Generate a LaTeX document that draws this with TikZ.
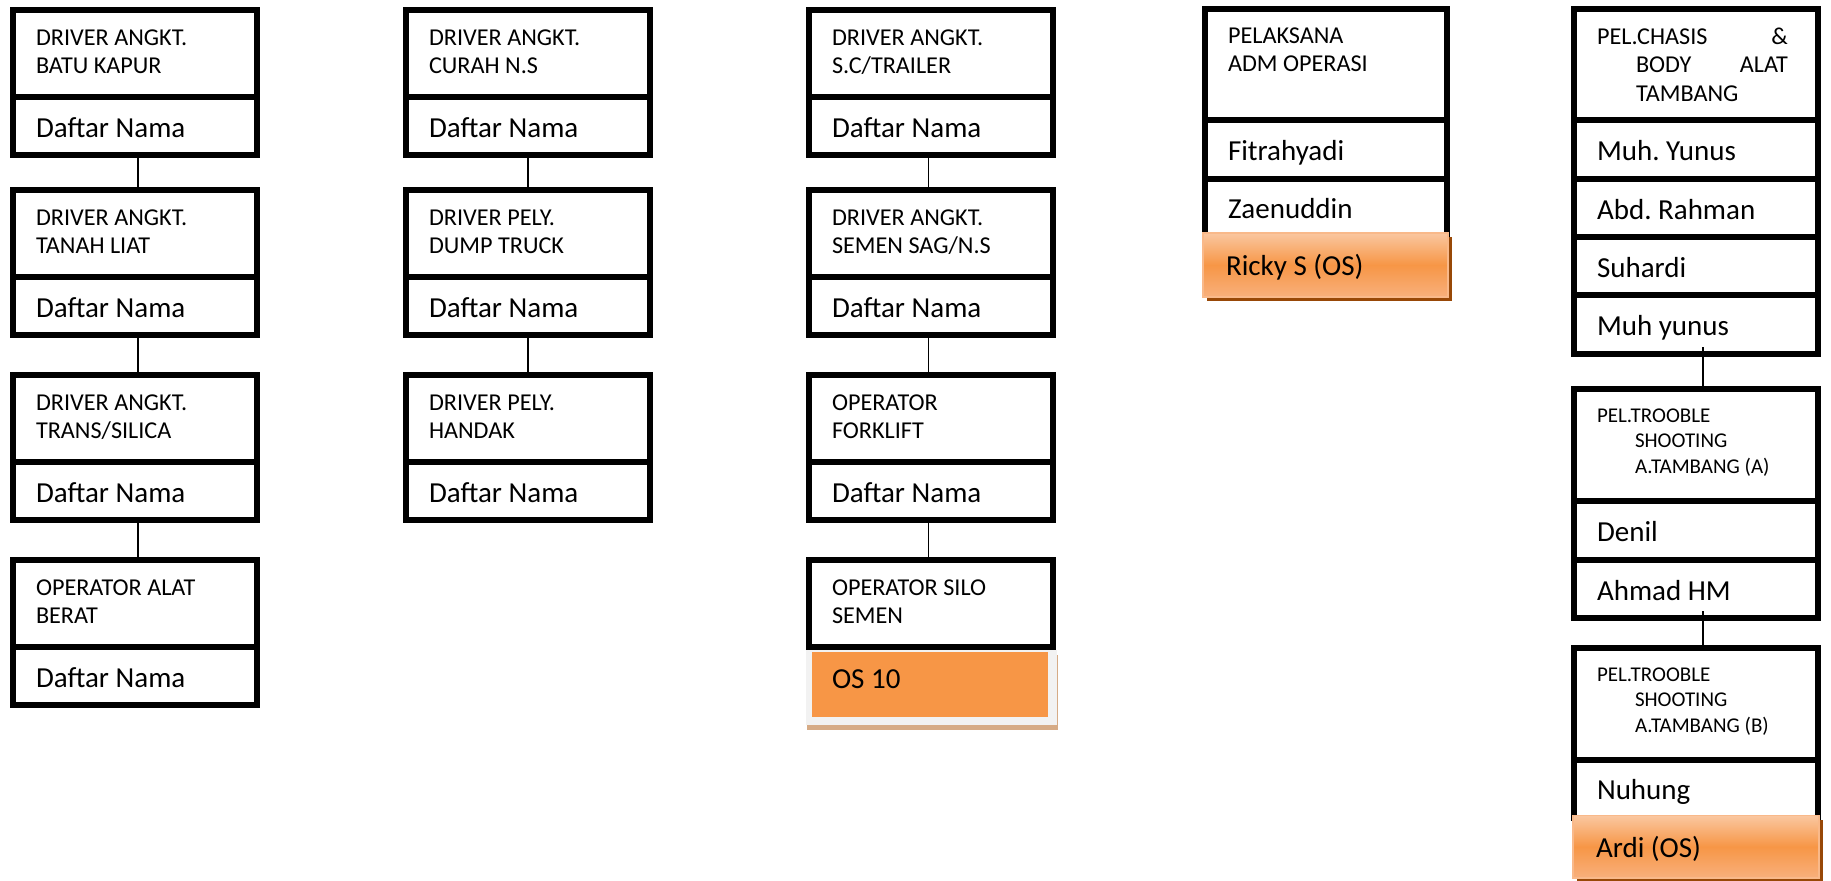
\documentclass[tikz,border=0pt]{standalone}
\usepackage{fontspec}
\setmainfont{Carlito}
\usetikzlibrary{shadows}
\frenchspacing
\definecolor{orMid}{HTML}{F79646}
\definecolor{orTop}{HTML}{FAC7A0}
\definecolor{orBot}{HTML}{F8B07C}
\definecolor{orEdge}{HTML}{F9B98A}
\definecolor{shBrown}{HTML}{984807}
\definecolor{shTan}{HTML}{D6AB86}
\definecolor{frameGray}{HTML}{F2F2F2}
\newcommand{\titlefont}{\fontsize{12.1pt}{14.25pt}\selectfont}
\newcommand{\smalltitlefont}{\fontsize{10.5pt}{12.75pt}\selectfont}
\newcommand{\namefont}{\fontsize{14.5pt}{17pt}\selectfont}
\newcommand{\ind}{\hspace*{11.5pt}}
% title cell: name, x, y, w, h, line1, line2
\newcommand{\tcell}[7]{\node[cellbox] (#1) at (#2,#3) {\parbox[c][\dimexpr #5pt/2\relax][t]{\dimexpr #4pt/2\relax}{\titlefont\vspace*{7.5pt}\ind\rule{0pt}{10pt}#6\\\ind #7}};}
% free title cell: name, x, y, w, h, body
\newcommand{\fcell}[6]{\node[cellbox] (#1) at (#2,#3) {\parbox[c][\dimexpr #5pt/2\relax][t]{\dimexpr #4pt/2\relax}{#6}};}
% name cell: [style] name, x, y, w, h, text
\newcommand{\ncell}[7][cellbox]{\node[#1] (#2) at (#3,#4) {\parbox[c][\dimexpr #6pt/2\relax][c]{\dimexpr #5pt/2\relax}{\namefont\ind\rule[-0.11em]{0pt}{1.01em}#7}};}
\tikzset{
  cellbox/.style={draw=black, line width=2.75pt, fill=white, inner sep=0pt, outer sep=0pt, anchor=north west},
  orbox/.style={draw=orEdge, line width=0.75pt, top color=orTop, bottom color=orBot, middle color=orMid,
    drop shadow={shadow xshift=2pt, shadow yshift=-2pt, opacity=1, fill=shBrown},
    inner sep=0pt, outer sep=0pt, anchor=north west},
  conn/.style={draw=black, line width=0.8pt}
}
\begin{document}
\begin{tikzpicture}[x=0.5pt, y=-0.5pt]
\useasboundingbox (0,0) rectangle (1831,880);
\fill[white] (0,0) rectangle (1831,880);

% ---------- column 1 ----------
\tcell{c1t1}{13}{10}{244}{87}{DRIVER ANGKT.}{BATU KAPUR}
\ncell{c1n1}{13}{97}{244}{58}{Daftar Nama}
\tcell{c1t2}{13}{190}{244}{87}{DRIVER ANGKT.}{TANAH LIAT}
\ncell{c1n2}{13}{277}{244}{58}{Daftar Nama}
\tcell{c1t3}{13}{375}{244}{87}{DRIVER ANGKT.}{TRANS/SILICA}
\ncell{c1n3}{13}{462}{244}{58}{Daftar Nama}
\tcell{c1t4}{13}{560}{244}{87}{OPERATOR ALAT}{BERAT}
\ncell{c1n4}{13}{647}{244}{58}{Daftar Nama}

% ---------- column 2 ----------
\tcell{c2t1}{406}{10}{244}{87}{DRIVER ANGKT.}{CURAH N.S}
\ncell{c2n1}{406}{97}{244}{58}{Daftar Nama}
\tcell{c2t2}{406}{190}{244}{87}{DRIVER PELY.}{DUMP TRUCK}
\ncell{c2n2}{406}{277}{244}{58}{Daftar Nama}
\tcell{c2t3}{406}{375}{244}{87}{DRIVER PELY.}{HANDAK}
\ncell{c2n3}{406}{462}{244}{58}{Daftar Nama}

% ---------- column 3 ----------
\tcell{c3t1}{809}{10}{244}{87}{DRIVER ANGKT.}{S.C/TRAILER}
\ncell{c3n1}{809}{97}{244}{58}{Daftar Nama}
\tcell{c3t2}{809}{190}{244}{87}{DRIVER ANGKT.}{SEMEN SAG/N.S}
\ncell{c3n2}{809}{277}{244}{58}{Daftar Nama}
\tcell{c3t3}{809}{375}{244}{87}{OPERATOR}{FORKLIFT}
\ncell{c3n3}{809}{462}{244}{58}{Daftar Nama}
\tcell{c3t4}{809}{560}{244}{87}{OPERATOR SILO}{SEMEN}
\node[fill=frameGray, inner sep=0pt, outer sep=0pt, anchor=north west,
  minimum width=125.5pt, minimum height=37.5pt,
  drop shadow={shadow xshift=0.5pt, shadow yshift=-2.5pt, opacity=1, fill=shTan}] (os10frame) at (806,650) {};
\node[fill=orMid, inner sep=0pt, outer sep=0pt, anchor=north west] (os10) at (812,652)
  {\parbox[c][32.5pt][t]{118pt}{\namefont\hspace*{10pt}\rule{0pt}{18pt}OS 10}};

% ---------- column 4 ----------
\fcell{c4t1}{1205}{9}{242}{111}{\titlefont\vspace*{7.5pt}\ind\rule{0pt}{9.5pt}PELAKSANA\\\ind ADM OPERASI}
\ncell{c4n1}{1205}{120}{242}{59}{Fitrahyadi}
\ncell{c4n2}{1205}{179}{242}{57}{Zaenuddin}
\ncell[orbox]{c4os}{1203}{233}{245}{64}{Ricky S (OS)}

% ---------- column 5 ----------
\fcell{c5t1}{1574}{9}{244}{111}{\titlefont\vspace*{7.5pt}\ind\rule{0pt}{10pt}PEL.CHASIS\hfill\&\kern15pt\\\hspace*{31pt}BODY\hfill ALAT\kern15pt\\\hspace*{31pt}TAMBANG}
\ncell{c5n1}{1574}{120}{244}{59}{Muh. Yunus}
\ncell{c5n2}{1574}{179}{244}{58}{Abd. Rahman}
\ncell{c5n3}{1574}{237}{244}{58}{Suhardi}
\ncell{c5n4}{1574}{295}{244}{59}{Muh yunus}

\fcell{c5t2}{1574}{389}{244}{112}{\smalltitlefont\vspace*{6.5pt}\ind\rule{0pt}{10pt}PEL.TROOBLE\\\hspace*{30.5pt}SHOOTING\\\hspace*{30.5pt}A.TAMBANG (A)}
\ncell{c5n5}{1574}{501}{244}{59}{Denil}
\ncell{c5n6}{1574}{560}{244}{58}{Ahmad HM}

\fcell{c5t3}{1574}{648}{244}{112}{\smalltitlefont\vspace*{6.5pt}\ind\rule{0pt}{10pt}PEL.TROOBLE\\\hspace*{30.5pt}SHOOTING\\\hspace*{30.5pt}A.TAMBANG (B)}
\ncell{c5n7}{1574}{760}{244}{58}{Nuhung}
\ncell[orbox]{c5os}{1573}{815.5}{246}{62.5}{Ardi (OS)}

% ---------- connectors ----------
\draw[conn] ([xshift=1.5pt]c1n1.south) -- ([xshift=1.5pt]c1t2.north);
\draw[conn] ([xshift=1.5pt]c1n2.south) -- ([xshift=1.5pt]c1t3.north);
\draw[conn] ([xshift=1.5pt]c1n3.south) -- ([xshift=1.5pt]c1t4.north);
\draw[conn] (c2n1.south) -- (c2t2.north);
\draw[conn] (c2n2.south) -- (c2t3.north);
\draw[conn] ([xshift=-1.25pt]c3n1.south) -- ([xshift=-1.25pt]c3t2.north);
\draw[conn] ([xshift=-1.25pt]c3n2.south) -- ([xshift=-1.25pt]c3t3.north);
\draw[conn] ([xshift=-1.25pt]c3n3.south) -- ([xshift=-1.25pt]c3t4.north);
\draw[conn] ([xshift=3.5pt,yshift=3.5pt]c5n4.south) -- ([xshift=3.5pt]c5t2.north);
\draw[conn] ([xshift=3.5pt,yshift=3.5pt]c5n6.south) -- ([xshift=3.5pt]c5t3.north);
\end{tikzpicture}
\end{document}
